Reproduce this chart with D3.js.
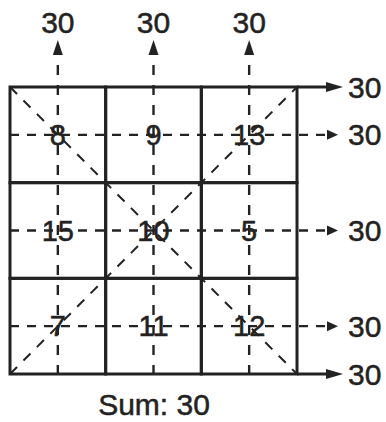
<!DOCTYPE html>
<html>
<head>
<meta charset="utf-8">
<script src="https://cdn.jsdelivr.net/npm/d3@7"></script>
<style>
	body { margin: 0; background: #fff; }
	text { font-family: "Liberation Sans", Arial, sans-serif; fill: #222; stroke: #222; stroke-width: 0.5px; }
</style>
</head>
<body>
<div id="wrapper"></div>
<script>

// magic square, one array per row
var row1 = [8, 9, 13];
var row2 = [15, 10, 5];
var row3 = [7, 11, 12];
var columnSums = [30, 30, 30];
var rowSums = [30, 30, 30];
var diagonalSums = [30, 30];
var sumLabel = "Sum: 30";

var rows = [row1, row2, row3];
var ink = "#222";

var svg = d3.select("#wrapper").append("svg")
	.attr("width", 386)
	.attr("height", 422);

var x = d3.scaleBand().domain([0, 1, 2]).range([10, 297]);
var y = d3.scaleBand().domain([0, 1, 2]).range([87, 374]);

var gridLeft = x.range()[0], gridRight = x.range()[1];
var gridTop = y.range()[0], gridBottom = y.range()[1];

function cx(i) { return x(i) + x.bandwidth() / 2; }
function cy(i) { return y(i) + y.bandwidth() / 2; }

// triangle with its tip at (tx, ty), pointing up or right
function arrowHead(tx, ty, dir, len, half) {
	var pts = dir === "up"
		? [[tx, ty], [tx - half, ty + len], [tx + half, ty + len]]
		: [[tx, ty], [tx - len, ty - half], [tx - len, ty + half]];
	svg.append("path")
		.attr("d", "M" + pts.join("L") + "Z")
		.attr("fill", ink);
}

// diagonals
svg.append("g").selectAll("line")
	.data([[gridLeft, gridTop, gridRight, gridBottom], [gridLeft, gridBottom, gridRight, gridTop]])
	.enter().append("line")
	.attr("x1", function(d) { return d[0]; })
	.attr("y1", function(d) { return d[1]; })
	.attr("x2", function(d) { return d[2]; })
	.attr("y2", function(d) { return d[3]; })
	.attr("stroke", ink)
	.attr("stroke-width", 2)
	.attr("stroke-dasharray", "10 9");

// grid
var cells = [];
rows.forEach(function(r, ri) {
	r.forEach(function(v, ci) { cells.push({ r: ri, c: ci, v: v }); });
});

svg.append("g").selectAll("rect")
	.data(cells)
	.enter().append("rect")
	.attr("x", function(d) { return x(d.c); })
	.attr("y", function(d) { return y(d.r); })
	.attr("width", x.bandwidth())
	.attr("height", y.bandwidth())
	.attr("fill", "none")
	.attr("stroke", ink)
	.attr("stroke-width", 3);

// column sums: dashed arrows up
columnSums.forEach(function(s, i) {
	svg.append("line")
		.attr("x1", cx(i)).attr("x2", cx(i))
		.attr("y1", 55).attr("y2", gridBottom)
		.attr("stroke", ink)
		.attr("stroke-width", 2.4)
		.attr("stroke-dasharray", "10 10")
		.attr("stroke-dashoffset", 10);
	arrowHead(cx(i), 40, "up", 15, 5);
	svg.append("text")
		.attr("x", cx(i))
		.attr("y", 33)
		.attr("text-anchor", "middle")
		.style("font-size", "30px")
		.text(s);
});

// row sums: dashed arrows right
rowSums.forEach(function(s, i) {
	svg.append("line")
		.attr("x1", gridLeft).attr("x2", 327)
		.attr("y1", cy(i)).attr("y2", cy(i))
		.attr("stroke", ink)
		.attr("stroke-width", 2.4)
		.attr("stroke-dasharray", "9 8");
	arrowHead(338, cy(i), "right", 11, 5);
	svg.append("text")
		.attr("x", 348)
		.attr("y", cy(i))
		.attr("dy", "0.35em")
		.style("font-size", "30px")
		.text(s);
});

// diagonal sums: solid arrows off the top and bottom edge
diagonalSums.forEach(function(s, i) {
	var yy = i === 0 ? gridTop : gridBottom;
	svg.append("line")
		.attr("x1", gridRight).attr("x2", 330)
		.attr("y1", yy).attr("y2", yy)
		.attr("stroke", ink)
		.attr("stroke-width", 3);
	arrowHead(343, yy, "right", 17, 5);
	svg.append("text")
		.attr("x", 348)
		.attr("y", yy)
		.attr("dy", "0.35em")
		.style("font-size", "30px")
		.text(s);
});

// numbers in the cells
svg.append("g").selectAll("text")
	.data(cells)
	.enter().append("text")
	.attr("x", function(d) { return cx(d.c); })
	.attr("y", function(d) { return cy(d.r); })
	.attr("dy", "0.35em")
	.attr("text-anchor", "middle")
	.style("font-size", "29px")
	.text(function(d) { return d.v; });

svg.append("text")
	.attr("x", 154)
	.attr("y", 415)
	.attr("text-anchor", "middle")
	.style("font-size", "30px")
	.text(sumLabel);

</script>
</body>
</html>
